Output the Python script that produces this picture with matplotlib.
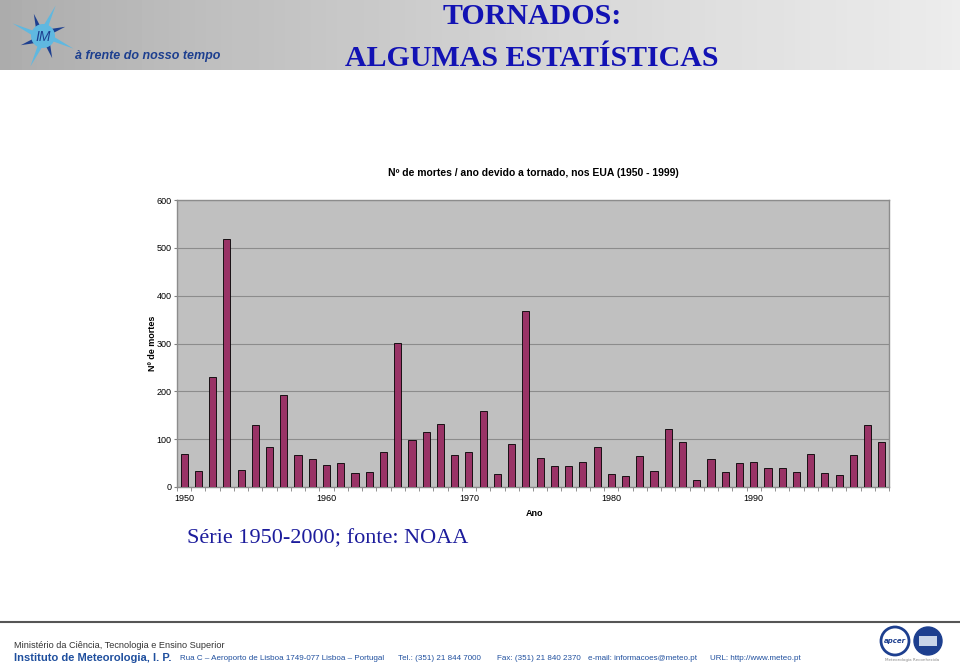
import numpy as np
import matplotlib
matplotlib.use("Agg")
import matplotlib.pyplot as plt
from matplotlib.patches import Rectangle, Polygon, Circle

# dados (NOAA) - nº de mortes por ano devido a tornados nos EUA
anos = list(range(1950, 2000))
mortes = [70, 34, 229, 519, 36, 129, 83, 193, 66, 58,
          46, 51, 29, 31, 73, 301, 98, 114, 132, 66,
          73, 159, 27, 89, 367, 60, 43, 43, 53, 84,
          28, 24, 64, 34, 122, 94, 15, 58, 32, 50,
          53, 39, 39, 32, 69, 30, 25, 67, 130, 94]
rotulos_x = ["1950", "1960", "1970", "1980", "1990"]
ticks_y = [0, 100, 200, 300, 400, 500, 600]

W, H = 960, 667
fig = plt.figure(figsize=(W / 100, H / 100), dpi=100)
fig.patch.set_facecolor("white")

def px(x0, y0, x1, y1):
    # caixa em pixels (topo-esquerda) -> fracções da figura
    return [x0 / W, 1 - y1 / H, (x1 - x0) / W, (y1 - y0) / H]

# --- camada de decoração (pixels) ---
deco = fig.add_axes([0, 0, 1, 1])
deco.set_xlim(0, W)
deco.set_ylim(H, 0)
deco.axis("off")

# banner do topo
grad = np.linspace(0, 1, 256).reshape(1, -1)
deco.imshow(grad, extent=(0, W, 70, 0), cmap="Greys_r", vmin=-2.0, vmax=1.5,
            aspect="auto", zorder=0)
deco.set_xlim(0, W)
deco.set_ylim(H, 0)

# logotipo (estrela)
cx, cy = 43, 36
for i in range(8):
    ang = np.deg2rad(22.5 + i * 45)
    r_out = 33 if i % 2 == 0 else 24
    a1, a2 = ang - np.deg2rad(18), ang + np.deg2rad(6)
    pts = [(cx + 11 * np.cos(a1), cy + 11 * np.sin(a1)),
           (cx + r_out * np.cos(ang), cy + r_out * np.sin(ang)),
           (cx + 11 * np.cos(a2), cy + 11 * np.sin(a2))]
    col = "#5fb8e0" if i % 2 == 0 else "#1d3f8f"
    deco.add_patch(Polygon(pts, closed=True, facecolor=col, edgecolor="none", zorder=2))
deco.add_patch(Circle((cx, cy), 12, facecolor="#5fb8e0", edgecolor="none", zorder=2))
deco.text(cx, cy + 1, "IM", ha="center", va="center", fontsize=10, style="italic",
          color="#1d3f8f", family="Liberation Sans", zorder=3)
deco.text(75, 56, "à frente do nosso tempo", ha="left", va="center", fontsize=9,
          style="italic", fontweight="bold", color="#1d3f8f", family="Liberation Sans")

deco.text(532, 17, "TORNADOS:", ha="center", va="center", fontsize=21.5,
          fontweight="bold", color="#1212b4", family="Liberation Serif")
deco.text(532, 59, "ALGUMAS ESTATÍSTICAS", ha="center", va="center", fontsize=21.5,
          fontweight="bold", color="#1212b4", family="Liberation Serif")

# rodapé
deco.plot([0, W], [622, 622], color="#555555", lw=1.5)
deco.text(14, 645, "Ministério da Ciência, Tecnologia e Ensino Superior", ha="left",
          va="center", fontsize=6.6, color="#333333", family="Liberation Sans")
deco.text(14, 658, "Instituto de Meteorologia, I. P.", ha="left", va="center",
          fontsize=8, fontweight="bold", color="#1f4f9e", family="Liberation Sans")
rodape = [(180, "Rua C – Aeroporto de Lisboa 1749-077 Lisboa – Portugal"),
          (398, "Tel.: (351) 21 844 7000"),
          (497, "Fax: (351) 21 840 2370"),
          (588, "e-mail: informacoes@meteo.pt"),
          (710, "URL: http://www.meteo.pt")]
for x, t in rodape:
    deco.text(x, 658, t, ha="left", va="center", fontsize=5.8, color="#1f4f9e",
              family="Liberation Sans")
deco.add_patch(Circle((895, 641), 14, facecolor="white", edgecolor="#1d3f8f", lw=2))
deco.text(895, 641, "apcer", ha="center", va="center", fontsize=5, style="italic",
          color="#1d3f8f", fontweight="bold")
deco.add_patch(Circle((928, 641), 14, facecolor="#1d3f8f", edgecolor="#1d3f8f", lw=1))
deco.add_patch(Rectangle((919, 636), 18, 10, facecolor="#c8d4e8", edgecolor="none"))
deco.text(912, 660, "Meteorologia Reconhecida", ha="center", va="center",
          fontsize=3, color="#888888")

# --- gráfico ---
ax = fig.add_axes(px(177, 200, 889, 487))
ax.set_facecolor("#c0c0c0")
x = np.arange(len(anos))
ax.bar(x, mortes, width=0.5, color="#993366", edgecolor="black", linewidth=0.6, zorder=3)
ax.set_xlim(-0.5, len(anos) - 0.5)
ax.set_ylim(0, 600)
ax.set_yticks(ticks_y)
ax.set_yticklabels([str(v) for v in ticks_y], fontsize=6.5, family="Liberation Sans")
ax.yaxis.grid(True, color="#8c8c8c", lw=0.8, zorder=1)
ax.set_xticks([anos.index(int(r)) for r in rotulos_x])
ax.set_xticklabels(rotulos_x, fontsize=6.5, family="Liberation Sans")
ax.set_xticks(np.arange(len(anos) + 1) - 0.5, minor=True)
ax.tick_params(axis="x", which="major", length=0, pad=5)
ax.tick_params(axis="x", which="minor", length=3, color="#808080")
ax.tick_params(axis="y", length=2, color="#808080", pad=2)
for s in ax.spines.values():
    s.set_color("#8c8c8c")
    s.set_linewidth(1)
ax.set_title("Nº de mortes / ano devido a tornado, nos EUA (1950 - 1999)", fontsize=7.5,
             fontweight="bold", family="Liberation Sans", pad=17)
ax.set_ylabel("Nº de mortes", fontsize=6.5, fontweight="bold", family="Liberation Sans")
ax.yaxis.set_label_coords(-(177 - 157) / (889 - 177), 0.5)
ax.set_xlabel("Ano", fontsize=6.5, fontweight="bold", family="Liberation Sans")
ax.xaxis.set_label_coords((535 - 177) / (889 - 177), -(509 - 487) / 287)

fig.text(187 / W, 1 - 539 / H, "Série 1950-2000; fonte: NOAA", ha="left", va="center",
         fontsize=16, color="#1c1c9c", family="Liberation Serif")

plt.savefig("out.png", dpi=100)
